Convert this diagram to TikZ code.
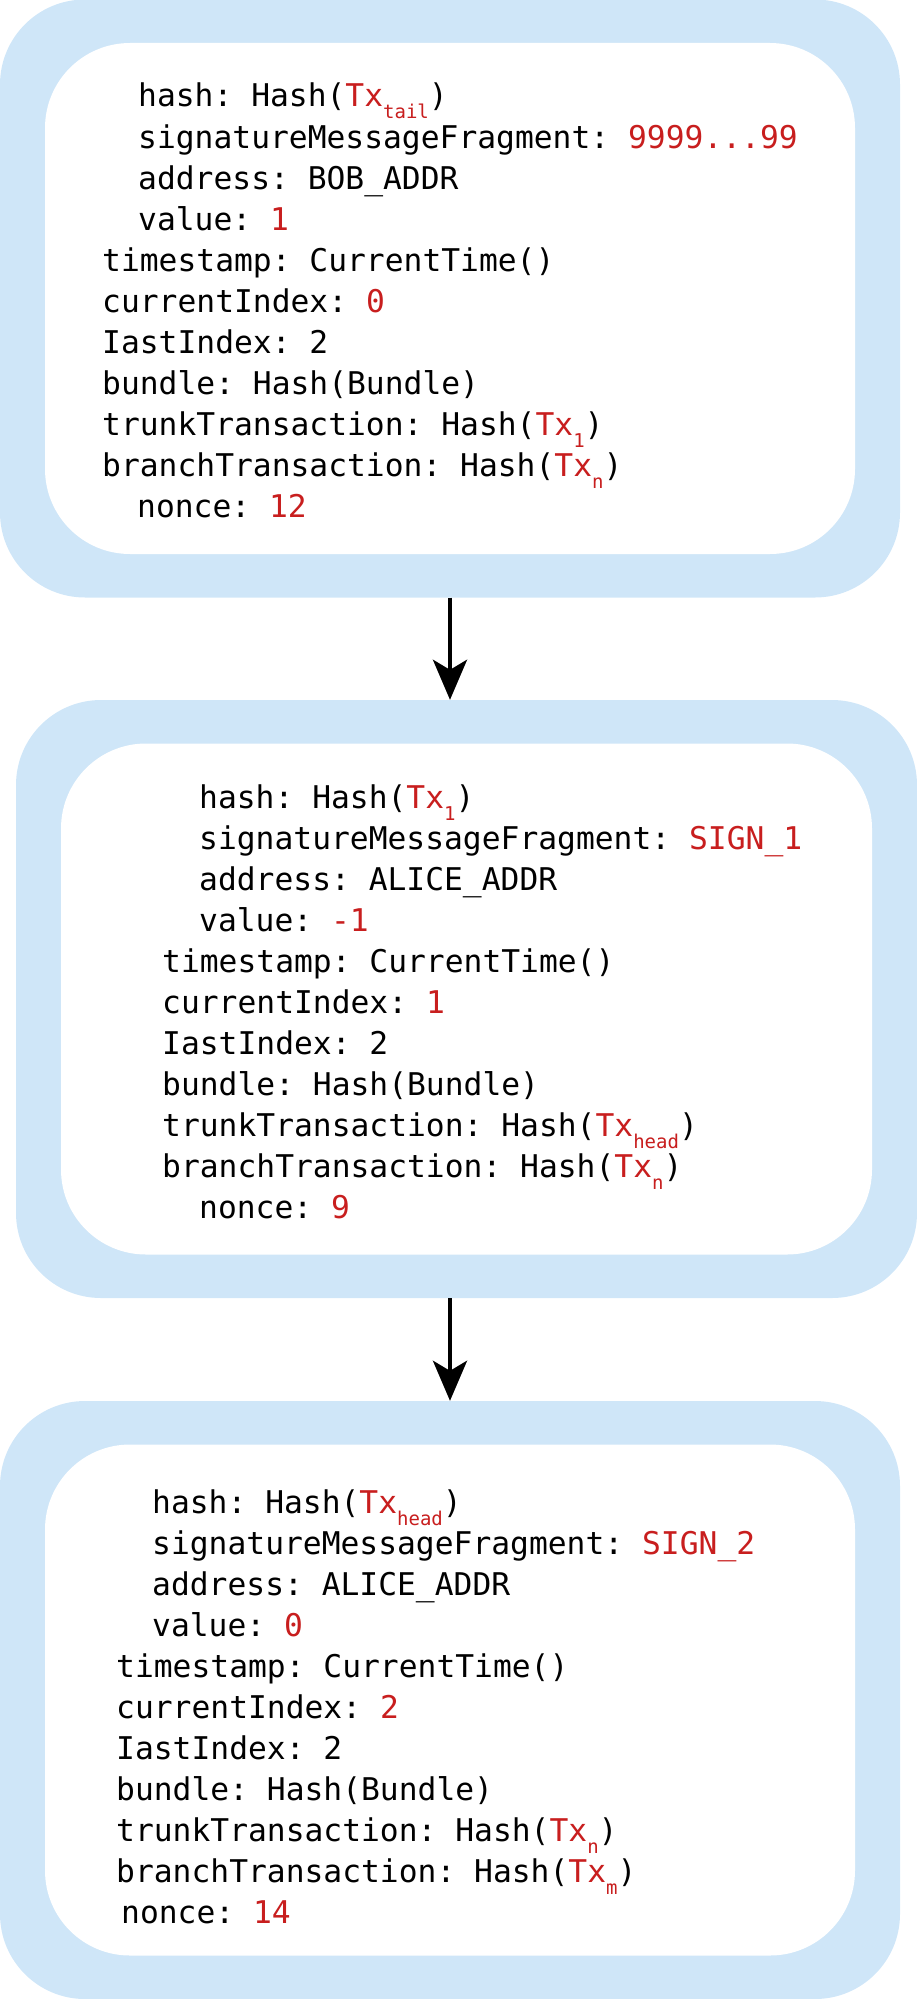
\documentclass[tikz,border=0pt]{standalone}
\usepackage{fontspec}
\setmonofont{DejaVu Sans Mono}
\usepackage{tikz}
\usetikzlibrary{arrows.meta}
\usetikzlibrary{calc}

\definecolor{boxblue}{RGB}{207,230,248}
\definecolor{txred}{RGB}{200,30,30}
\newcommand{\redval}[1]{\textcolor{txred}{#1}}
\newcommand{\txsub}[1]{\textcolor{txred}{Tx\raisebox{-12pt}{\fontsize{19pt}{19pt}\selectfont #1}}}

\tikzset{
  outerbox/.style={rectangle,rounded corners=85pt,fill=boxblue,minimum width=900pt,minimum height=598pt},
  innerbox/.style={rectangle,rounded corners=85pt,fill=white,minimum width=810pt,minimum height=511pt},
  field/.style={anchor=base west,inner sep=0pt}
}

\begin{document}
\begin{tikzpicture}[x=1pt,y=-1pt,inner sep=0pt,>={Stealth[length=40pt,width=34pt,inset=10pt]},
  font=\ttfamily\fontsize{31.3pt}{41pt}\selectfont\frenchspacing]
\useasboundingbox (0,0) rectangle (917,1999);
% transaction boxes
\draw node [outerbox] (tx1) at (450,298.5) {};
\draw node [innerbox] (in1) at (tx1.center) {};
\draw node [outerbox,minimum width=901pt] (tx2) at (466.5,999) {};
\draw node [innerbox,minimum width=811pt] (in2) at (tx2.center) {};
\draw node [outerbox] (tx3) at (450,1700) {};
\draw node [innerbox] (in3) at (tx3.center) {};
% tail transaction
\node [field] (a1) at (138,107) {hash: Hash(\txsub{tail})};
\node [field] (a2) at (138,148) {signatureMessageFragment: \redval{9999...99}};
\node [field] (a3) at (138,189) {address: BOB\_ADDR};
\node [field] (a4) at (138,230) {value: \redval{1}};
\node [field] (a5) at (102,271) {timestamp: CurrentTime()};
\node [field] (a6) at (102,312) {currentIndex: \redval{0}};
\node [field] (a7) at (102,353) {IastIndex: 2};
\node [field] (a8) at (102,394) {bundle: Hash(Bundle)};
\node [field] (a9) at (102,435) {trunkTransaction: Hash(\txsub{1})};
\node [field] (a10) at (102,476) {branchTransaction: Hash(\txsub{n})};
\node [field] (a11) at (137,517) {nonce: \redval{12}};
% second transaction
\node [field] (b1) at (199,808) {hash: Hash(\txsub{1})};
\node [field] (b2) at (199,849) {signatureMessageFragment: \redval{SIGN\_1}};
\node [field] (b3) at (199,890) {address: ALICE\_ADDR};
\node [field] (b4) at (199,931) {value: \redval{-1}};
\node [field] (b5) at (162,972) {timestamp: CurrentTime()};
\node [field] (b6) at (162,1013) {currentIndex: \redval{1}};
\node [field] (b7) at (162,1054) {IastIndex: 2};
\node [field] (b8) at (162,1095) {bundle: Hash(Bundle)};
\node [field] (b9) at (162,1136) {trunkTransaction: Hash(\txsub{head})};
\node [field] (b10) at (162,1177) {branchTransaction: Hash(\txsub{n})};
\node [field] (b11) at (199,1218) {nonce: \redval{9}};
% head transaction
\node [field] (c1) at (152,1513) {hash: Hash(\txsub{head})};
\node [field] (c2) at (152,1554) {signatureMessageFragment: \redval{SIGN\_2}};
\node [field] (c3) at (152,1595) {address: ALICE\_ADDR};
\node [field] (c4) at (152,1636) {value: \redval{0}};
\node [field] (c5) at (116,1677) {timestamp: CurrentTime()};
\node [field] (c6) at (116,1718) {currentIndex: \redval{2}};
\node [field] (c7) at (116,1759) {IastIndex: 2};
\node [field] (c8) at (116,1800) {bundle: Hash(Bundle)};
\node [field] (c9) at (116,1841) {trunkTransaction: Hash(\txsub{n})};
\node [field] (c10) at (116,1882) {branchTransaction: Hash(\txsub{m})};
\node [field] (c11) at (121,1923) {nonce: \redval{14}};
% links
\draw [->,line width=4.3pt] (tx1.south) -- (tx1.south |- tx2.north);
\draw [->,line width=4.3pt] (tx3.north |- tx2.south) -- (tx3.north);
\end{tikzpicture}
\end{document}
